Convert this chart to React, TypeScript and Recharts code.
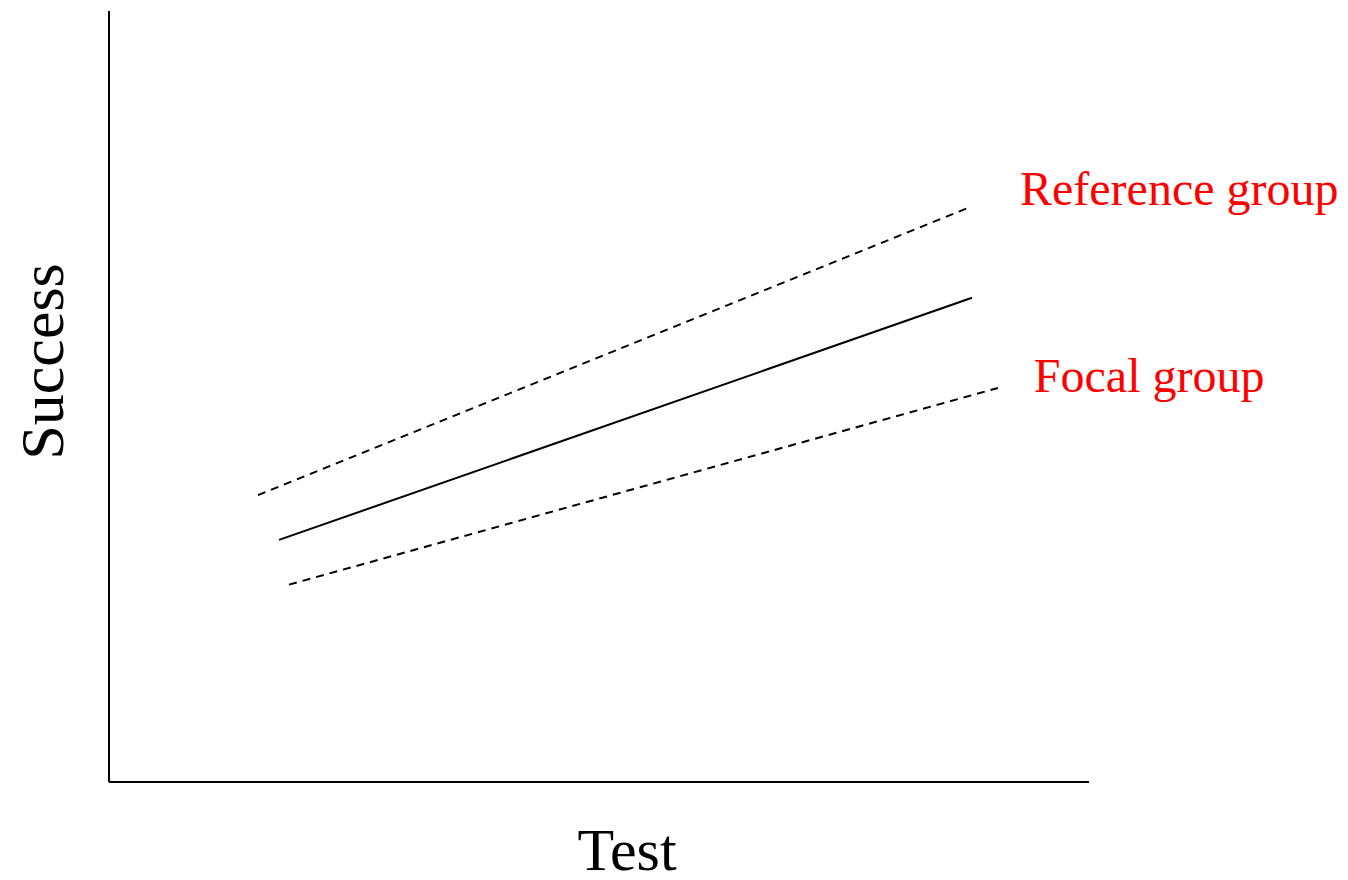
import React from 'react';
import { LineChart, Line, XAxis, YAxis, Label, LabelList } from 'recharts';

// Data (abstract 0–100 scale on both axes)
const referenceX = [15.2, 87.55];
const referenceY = [37.2, 74.4];
const commonX = [17.35, 88.06];
const commonY = [31.4, 62.8];
const focalX = [18.37, 90.7];
const focalY = [25.6, 51.1];
const seriesNames = ['Reference group', 'Focal group'];
const axisTitles = ['Test', 'Success'];

const toPoints = (xs: number[], ys: number[]) => xs.map((x, i) => ({ x, y: ys[i] }));

const referenceData = toPoints(referenceX, referenceY);
const commonData = toPoints(commonX, commonY);
const focalData = toPoints(focalX, focalY);

const FONT = '"Liberation Serif", "Times New Roman", Times, serif';

const endLabel = (text: string, count: number, dx: number, dy: number) => (props: any) => {
  if (props.index !== count - 1) return null;
  return (
    <text
      x={Number(props.x) + dx}
      y={Number(props.y) + dy}
      fill="#ff0000"
      fontSize={48}
      fontFamily={FONT}
      textAnchor="start"
    >
      {text}
    </text>
  );
};

const XTitle = (props: any) => {
  const vb = props.viewBox || {};
  return (
    <text
      x={vb.x + vb.width / 2 + 28}
      y={vb.y + 88}
      textAnchor="middle"
      fontSize={60}
      fontFamily={FONT}
      fill="#000"
    >
      {axisTitles[0]}
    </text>
  );
};

const YTitle = (props: any) => {
  const vb = props.viewBox || {};
  const cx = vb.x + 55;
  const cy = vb.y + vb.height / 2 - 35;
  return (
    <text
      x={cx}
      y={cy}
      transform={`rotate(-90, ${cx}, ${cy})`}
      textAnchor="middle"
      fontSize={62}
      fontFamily={FONT}
      fill="#000"
    >
      {axisTitles[1]}
    </text>
  );
};

export default function App() {
  return (
    <div style={{ width: 1332, height: 864, background: '#fff' }}>
      <LineChart width={1332} height={864} margin={{ top: 3, right: 251, bottom: 0, left: 0 }}>
        <XAxis
          type="number"
          dataKey="x"
          domain={[0, 100]}
          tick={false}
          tickLine={false}
          axisLine={{ stroke: '#000', strokeWidth: 2 }}
          height={90}
          allowDataOverflow
        >
          <Label content={<XTitle />} />
        </XAxis>
        <YAxis
          type="number"
          dataKey="y"
          domain={[0, 100]}
          tick={false}
          tickLine={false}
          axisLine={{ stroke: '#000', strokeWidth: 2 }}
          width={101}
          allowDataOverflow
        >
          <Label content={<YTitle />} />
        </YAxis>
        <Line
          data={referenceData}
          dataKey="y"
          type="linear"
          stroke="#000"
          strokeWidth={2}
          strokeDasharray="8 6"
          dot={false}
          activeDot={false}
          isAnimationActive={false}
        >
          <LabelList dataKey="y" content={endLabel(seriesNames[0], referenceData.length, 53, -3)} />
        </Line>
        <Line
          data={commonData}
          dataKey="y"
          type="linear"
          stroke="#000"
          strokeWidth={2}
          dot={false}
          activeDot={false}
          isAnimationActive={false}
        />
        <Line
          data={focalData}
          dataKey="y"
          type="linear"
          stroke="#000"
          strokeWidth={2}
          strokeDasharray="8 6"
          dot={false}
          activeDot={false}
          isAnimationActive={false}
        >
          <LabelList dataKey="y" content={endLabel(seriesNames[1], focalData.length, 36, 4)} />
        </Line>
      </LineChart>
    </div>
  );
}
